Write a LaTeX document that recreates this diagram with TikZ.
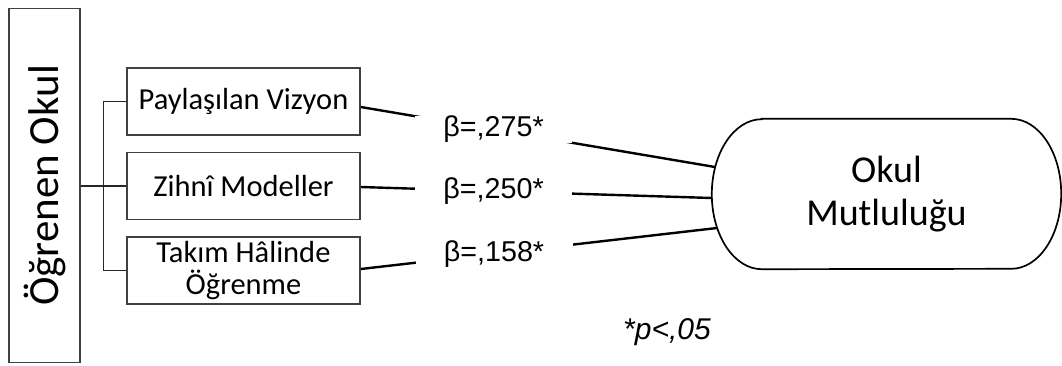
\documentclass[tikz,border=0pt]{standalone}
\usepackage{fontspec}
\setmainfont{Carlito}
\newfontfamily\arialfont{Liberation Sans}
\usetikzlibrary{positioning}
\definecolor{boxgray}{HTML}{404040}
\tikzset{
  dimbox/.style={draw=boxgray, line width=1.6pt, minimum width=233pt, minimum height=67pt,
    align=center, inner sep=2pt, font=\fontsize{30.5}{32}\selectfont},
  coef/.style={fill=white, minimum width=157pt, minimum height=26pt, inner sep=0pt,
    font=\arialfont\fontsize{28.7}{30}\selectfont},
  link/.style={line width=2.4pt},
  brace/.style={line width=1.4pt, draw=black!85}
}
\begin{document}
\begin{tikzpicture}[x=1pt,y=-1pt]
  \useasboundingbox (0,0) rectangle (1062,365);
  % main construct
  \node[draw=boxgray, line width=1.6pt, rotate=90, minimum width=354pt, minimum height=71pt,
    inner sep=0pt, font=\fontsize{43}{46}\selectfont] (ok) at (44.5,185.5) {Öğrenen Okul};
  % dimensions
  \node[dimbox] (pv) at (243.5,101.5) {Paylaşılan Vizyon};
  \node[dimbox] (zm) at (243.5,186) {Zihnî Modeller};
  \node[dimbox, font=\fontsize{30.5}{32}\selectfont] (th) at (243.5,270.5) {Takım Hâlinde\\Öğrenme};
  % outcome
  \node[minimum width=349pt, minimum height=150pt, align=center, inner sep=0pt,
    font=\fontsize{38}{43}\selectfont] (om) at (886.5,194) {Okul\\Mutluluğu};
  \draw[line width=1.7pt] ([xshift=50pt]om.north west) -- ([xshift=-50pt]om.north east)
    arc[start angle=90, end angle=-90, x radius=50pt, y radius=75pt]
    -- ([xshift=50pt]om.south west)
    arc[start angle=270, end angle=90, x radius=50pt, y radius=75pt] -- cycle;
  \coordinate (in1) at (715,167);
  \coordinate (in2) at (712,198);
  \coordinate (in3) at (717,228);
  % bracket
  \draw[brace] (ok.south |- zm.west) -- (zm.west);
  \draw[brace] (pv.west) -- ++(-23,0) |- (th.west);
  % paths
  \draw[link] ([yshift=-5.5pt]pv.east) -- (in1) node[coef, pos=0.375] (b1) {β=,275*};
  \draw[link] ([yshift=-1pt]zm.east) -- (in2) node[coef, pos=0.378] (b2) {β=,250*};
  \draw[link] ([yshift=1.5pt]th.east) -- (in3) node[coef, pos=0.374] (b3) {β=,158*};
  \node[font=\arialfont\itshape\fontsize{30}{32}\selectfont] (sig) at (667,332) {*p<,05};
\end{tikzpicture}
\end{document}
